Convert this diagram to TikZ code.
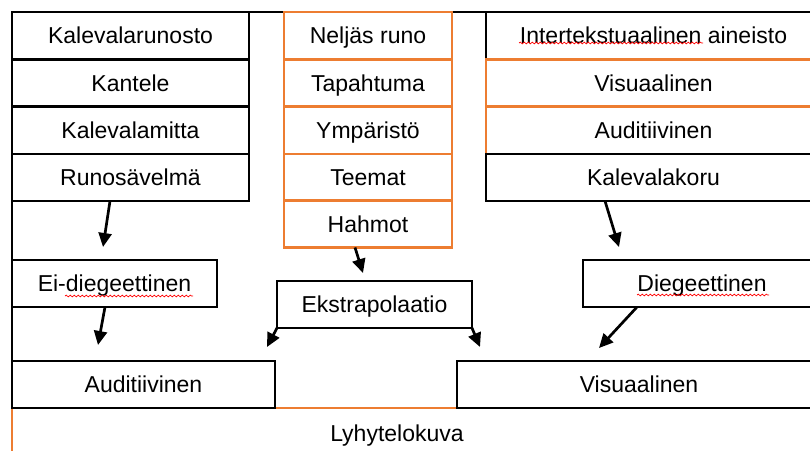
\documentclass[tikz,border=0pt]{standalone}
\usepackage{fontspec}
\setmainfont{Liberation Sans}
\usetikzlibrary{arrows.meta,decorations.pathmorphing}
\definecolor{kalorange}{HTML}{ED7D31}
\tikzset{
  box/.style={draw, line width=2.8pt, inner sep=0pt, outer sep=0pt, minimum height=47pt,
    text height=16.4pt, text depth=0pt, font=\fontsize{23}{27}\selectfont},
  obox/.style={box, draw=kalorange},
  arr/.style={line width=2.7pt, -{Triangle[length=14pt,width=13pt]}},
  squiggle/.style={red, line width=0.7pt, decorate,
    decoration={snake, amplitude=0.9pt, segment length=4pt}}
}
\begin{document}
\begin{tikzpicture}[x=1pt,y=-1pt]
\useasboundingbox (0,0) rectangle (810,450);
\clip (0,0) rectangle (810,450);
% Lyhytelokuva
\node[obox, minimum width=830pt, minimum height=60pt, anchor=north west] (lyhyt) at (12,408){};
\node[box, draw=none] (lyhytteksti) at (397,433){Lyhytelokuva};
\draw[line width=2.8pt] (lyhyt.north west) -- (12,12) -- (830,12);

% vasen sarake
\node[box, minimum width=237pt] (kalrun) at (130.5,35.5){Kalevalarunosto};
\node[box, minimum width=237pt] (kantele) at (130.5,83){Kantele};
\node[box, minimum width=237pt] (mitta) at (130.5,130.5){Kalevalamitta};
\node[box, minimum width=237pt] (runo) at (130.5,177.5){Runos\"avelm\"a};

% keskisarake
\node[obox, minimum width=168pt] (neljas) at (368,35.5){Nelj\"as runo};
\node[obox, minimum width=168pt] (tapahtuma) at (368,83){Tapahtuma};
\node[obox, minimum width=168pt] (ymparisto) at (368,130.5){Ymp\"arist\"o};
\node[obox, minimum width=168pt] (teemat) at (368,177.5){Teemat};
\node[obox, minimum width=168pt] (hahmot) at (368,224){Hahmot};

% oikea sarake
\node[box, minimum width=335pt] (inter) at (653.5,35.5){Intertekstuaalinen aineisto};
\node[obox, minimum width=335pt] (visu1) at (653.5,83){Visuaalinen};
\node[obox, minimum width=335pt] (audi1) at (653.5,130.5){Auditiivinen};
\node[box, minimum width=335pt] (koru) at (653.5,177.5){Kalevalakoru};

% alarivi
\node[box, minimum width=205pt] (eidie) at (114.5,283.5){Ei-diegeettinen};
\node[box, minimum width=195pt] (ekstra) at (374.5,304.5){Ekstrapolaatio};
\node[box, minimum width=238pt] (dieg) at (702,283.5){Diegeettinen};
\node[box, minimum width=263pt] (audi2) at (143.5,384.5){Auditiivinen};
\node[box, minimum width=364pt] (visu2) at (639,384.5){Visuaalinen};

\draw[arr] ([xshift=-20.5pt]runo.south) -- ([xshift=-11.5pt,yshift=13pt]eidie.north);
\draw[arr] ([xshift=-9.5pt]eidie.south) -- ([xshift=-45.5pt,yshift=16pt]audi2.north);
\draw[arr] ([xshift=-13pt]hahmot.south) -- ([xshift=-11.5pt,yshift=8pt]ekstra.north);
\draw[arr] (ekstra.south west) -- ([xshift=-8pt,yshift=14pt]audi2.north east);
\draw[arr] (ekstra.south east) -- ([xshift=23pt,yshift=14pt]visu2.north west);
\draw[arr] ([xshift=-48.5pt]koru.south) -- ([xshift=-83pt,yshift=13pt]dieg.north);
\draw[arr] ([xshift=-65pt]dieg.south) -- ([xshift=-40pt,yshift=13pt]visu2.north);

% oikeinkirjoitusviivat
\draw[squiggle] (519,43) -- (703,43);
\draw[squiggle] (65,296) -- (193,296);
\draw[squiggle] (637,295) -- (769,295);
\end{tikzpicture}
\end{document}
